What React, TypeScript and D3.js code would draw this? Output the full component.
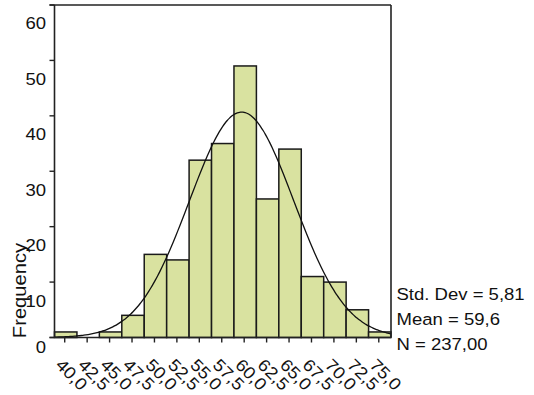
import React from "react";
import * as d3 from "d3";

const binStarts = [40, 42.5, 45, 47.5, 50, 52.5, 55, 57.5, 60, 62.5, 65, 67.5, 70, 72.5, 75];
const binLabels = ["40,0", "42,5", "45,0", "47,5", "50,0", "52,5", "55,0", "57,5", "60,0", "62,5", "65,0", "67,5", "70,0", "72,5", "75,0"];
const counts = [1, 0, 1, 4, 15, 14, 32, 35, 49, 25, 34, 11, 10, 5, 1];
const yTicks = [0, 10, 20, 30, 40, 50, 60];
const BIN_WIDTH = 2.5;
const MEAN = 59.6;
const SD = 5.81;
const N = 237;
const statLines = ["Std. Dev = 5,81", "Mean = 59,6", "N = 237,00"];

const W = 534;
const H = 395;
const FONT = "Arial, 'Liberation Sans', sans-serif";
const STRETCH = 1.09;

export default function App() {
  const x = d3.scaleLinear().domain([38.75, 76.25]).range([54.5, 391]);
  const y = d3.scaleLinear().domain([0, 60]).range([337.5, 5]);

  const curveXs = d3.range(38.75, 76.25 + 0.001, 0.25);
  const density = (v: number) =>
    (N * BIN_WIDTH) / (SD * Math.sqrt(2 * Math.PI)) * Math.exp(-((v - MEAN) ** 2) / (2 * SD * SD));
  const line = d3
    .line<number>()
    .x((v) => x(v))
    .y((v) => y(density(v)))
    .curve(d3.curveBasis);

  return (
    <svg
      width={W}
      height={H}
      style={{ position: "fixed", left: 0, top: 0, background: "#fff" }}
      fontFamily={FONT}
    >
      <rect x={0} y={0} width={W} height={H} fill="#fff" />
      {/* bars */}
      {binStarts.map((b, i) =>
        counts[i] > 0 ? (
          <rect
            key={"bar" + i}
            x={x(b - BIN_WIDTH / 2)}
            y={y(counts[i])}
            width={x(b + BIN_WIDTH / 2) - x(b - BIN_WIDTH / 2)}
            height={y(0) - y(counts[i])}
            fill="#d9e2a0"
            stroke="#1a1a1a"
            strokeWidth={1.5}
          />
        ) : null
      )}
      {/* normal curve */}
      <path d={line(curveXs) || ""} fill="none" stroke="#111" strokeWidth={1.3} />
      {/* frame */}
      <line x1={x.range()[0]} x2={x.range()[0]} y1={y(60)} y2={y(0)} stroke="#222" strokeWidth={1.6} />
      <line x1={x.range()[1]} x2={x.range()[1]} y1={y(60)} y2={y(0)} stroke="#222" strokeWidth={1.6} />
      <line x1={x.range()[0] - 5} x2={x.range()[1]} y1={y(60)} y2={y(60)} stroke="#222" strokeWidth={1.6} />
      <line x1={x.range()[0] - 5} x2={x.range()[1]} y1={y(0)} y2={y(0)} stroke="#222" strokeWidth={1.6} />
      {/* y ticks */}
      {yTicks.map((t) => (
        <g key={"yt" + t}>
          <line x1={x.range()[0] - 5} x2={x.range()[0]} y1={y(t)} y2={y(t)} stroke="#222" strokeWidth={1.4} />
          <text
            transform={`translate(46,${y(t) + (t === 0 ? 11.5 : 20)}) scale(${STRETCH},1)`}
            textAnchor="end"
            dominantBaseline="middle"
            fontSize={17}
            fill="#111"
          >
            {t}
          </text>
        </g>
      ))}
      {/* x ticks and labels */}
      {binStarts.map((b, i) => (
        <g key={"xt" + i}>
          <line x1={x(b) - 1} x2={x(b) - 1} y1={y(0)} y2={y(0) + 5} stroke="#222" strokeWidth={1.4} />
          <text
            transform={`translate(${x(b) - 11},${366}) rotate(45) scale(${STRETCH},1)`}
            fontSize={17}
            fill="#111"
          >
            {binLabels[i]}
          </text>
        </g>
      ))}
      {/* y axis title */}
      <text
        transform={`translate(26,290.5) rotate(-90) scale(${STRETCH},1)`}
        textAnchor="middle"
        fontSize={18.5}
        fill="#111"
      >
        Frequency
      </text>
      {/* stats */}
      {statLines.map((s, i) => (
        <text
          key={"st" + i}
          transform={`translate(396.5,${300 + i * 25}) scale(${STRETCH},1)`}
          fontSize={17}
          fill="#111"
        >
          {s}
        </text>
      ))}
    </svg>
  );
}
